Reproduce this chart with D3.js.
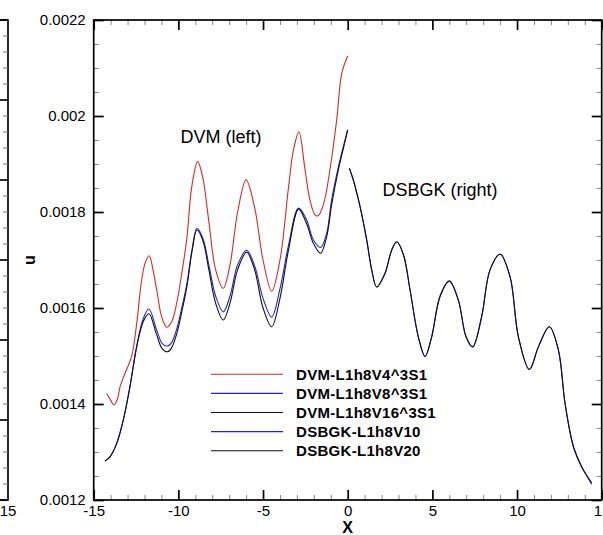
<!DOCTYPE html>
<html>
<head>
<meta charset="utf-8">
<script src="https://cdn.jsdelivr.net/npm/d3@7"></script>
<style>
  html, body { margin: 0; padding: 0; background: #fff; }
  svg { display: block; font-family: "Liberation Sans", Arial, Helvetica, sans-serif; }
</style>
</head>
<body>
<svg id="chart" width="603" height="535"></svg>
<script>
// ---- data -------------------------------------------------------------
// DVM solutions (left half of the domain)
const dvmRedX = [-14.23, -14.0, -13.8, -13.6, -13.44, -13.15, -12.76, -12.46, -12.17, -11.95, -11.72, -11.5, -11.28, -10.99, -10.69, -10.4, -10.1, -9.8, -9.51, -9.2, -8.86, -8.55, -8.2, -7.8, -7.35, -6.95, -6.5, -6.0, -5.5, -5.0, -4.49, -4.0, -3.5, -3.2, -2.88, -2.52, -2.23, -1.93, -1.74, -1.4, -1.05, -0.65, -0.35, 0.0];
const dvmRedU = [0.001422, 0.001408, 0.001398, 0.00141, 0.001436, 0.001464, 0.001499, 0.001568, 0.001658, 0.001695, 0.001709, 0.00168, 0.001638, 0.001582, 0.00156, 0.001571, 0.00161, 0.001672, 0.001742, 0.001855, 0.001905, 0.00187, 0.00178, 0.00168, 0.001641, 0.00169, 0.0018, 0.001867, 0.00181, 0.0017, 0.001635, 0.0017, 0.00185, 0.00193, 0.001967, 0.001888, 0.001825, 0.001794, 0.001792, 0.00182, 0.001888, 0.001992, 0.002089, 0.002125];

const dvmX = [-14.34, -14.04, -13.64, -13.25, -12.86, -12.46, -12.07, -11.74, -11.28, -10.95, -10.63, -10.4, -10.1, -9.8, -9.5, -9.2, -8.9, -8.55, -8.2, -7.8, -7.35, -6.95, -6.5, -5.97, -5.5, -5.0, -4.49, -4.0, -3.5, -2.9, -2.42, -2.03, -1.6, -1.24, -0.95, -0.55, -0.26, 0.0];
const dvmBlueU = [0.001281, 0.00129, 0.001318, 0.001367, 0.001436, 0.001521, 0.001578, 0.001598, 0.001554, 0.001526, 0.001521, 0.001528, 0.001556, 0.0016, 0.00165, 0.00172, 0.001766, 0.001745, 0.00169, 0.001625, 0.001592, 0.001625, 0.00169, 0.00172, 0.001688, 0.00162, 0.001581, 0.00164, 0.00173, 0.001808, 0.001783, 0.001742, 0.001726, 0.001756, 0.001825, 0.001894, 0.001936, 0.001971];
const dvmBlackU = [0.001281, 0.00129, 0.001318, 0.001367, 0.001436, 0.001519, 0.001572, 0.001588, 0.001544, 0.001515, 0.001509, 0.001517, 0.001546, 0.001592, 0.001644, 0.001717, 0.001763, 0.00174, 0.00168, 0.00161, 0.001575, 0.00161, 0.00168, 0.001716, 0.00168, 0.0016, 0.001561, 0.00162, 0.00172, 0.001806, 0.001775, 0.001735, 0.001714, 0.001749, 0.001815, 0.001888, 0.001932, 0.001971];

// DSBGK solutions (right half of the domain)
const dsbgkX = [0.1, 0.33, 0.73, 1.12, 1.42, 1.71, 2.2, 2.6, 2.9, 3.3, 3.68, 4.17, 4.57, 4.96, 5.45, 6.0, 6.53, 6.99, 7.38, 7.91, 8.4, 9.0, 9.59, 10.08, 10.73, 11.26, 11.91, 12.44, 12.84, 13.33, 13.82, 14.41];
const dsbgkV10U = [0.001891, 0.001867, 0.001811, 0.001742, 0.001679, 0.001644, 0.001672, 0.001721, 0.001738, 0.00171, 0.001638, 0.00154, 0.001499, 0.00154, 0.001624, 0.001656, 0.001617, 0.00154, 0.001519, 0.001582, 0.001679, 0.001712, 0.001665, 0.00154, 0.001472, 0.001519, 0.001561, 0.001513, 0.0014, 0.001311, 0.001269, 0.001233];
const dsbgkV20U = [0.001891, 0.001867, 0.001811, 0.001742, 0.001679, 0.001644, 0.001672, 0.001721, 0.001738, 0.00171, 0.001638, 0.00154, 0.001499, 0.00154, 0.001624, 0.001656, 0.001617, 0.00154, 0.001519, 0.001582, 0.001679, 0.001712, 0.001665, 0.00154, 0.001472, 0.001519, 0.001561, 0.001513, 0.0014, 0.001311, 0.001269, 0.001236];

const seriesNames = ["DVM-L1h8V4^3S1", "DVM-L1h8V8^3S1", "DVM-L1h8V16^3S1", "DSBGK-L1h8V10", "DSBGK-L1h8V20"];
const seriesColors = ["#d42a2a", "#2323e6", "#111111", "#2323e6", "#111111"];

const xTickValues = [-15, -10, -5, 0, 5, 10, 15];
const xTickLabels = ["-15", "-10", "-5", "0", "5", "10", "15"];
const yTickValues = [0.0012, 0.0014, 0.0016, 0.0018, 0.002, 0.0022];
const yTickLabels = ["0.0012", "0.0014", "0.0016", "0.0018", "0.002", "0.0022"];

// ---- layout -----------------------------------------------------------
const svg = d3.select("#chart");
const frame = { left: 93.7, right: 601.7, top: 20, bottom: 500 };
const tickFont = 15;

const x = d3.scaleLinear().domain([-15, 15]).range([frame.left, frame.right]);
const y = d3.scaleLinear().domain([0.0012, 0.0022]).range([frame.bottom, frame.top]);

// neighbouring panel edge on the far left
const side = svg.append("g").attr("class", "side-panel");
const sideY = d3.scaleLinear().domain([0, 30]).range([frame.bottom, frame.top]);
side.append("path")
  .attr("d", `M0,${frame.top}H8V${frame.bottom}H0`)
  .attr("fill", "none").attr("stroke", "#000").attr("stroke-width", 1.7);
side.selectAll("line.tick")
  .data(d3.range(0, 31))
  .join("line")
  .attr("x1", d => d % 5 === 0 ? 0 : 3)
  .attr("x2", 8)
  .attr("y1", d => sideY(d)).attr("y2", d => sideY(d))
  .attr("stroke", d => d % 5 === 0 ? "#000" : "#777")
  .attr("stroke-width", d => d % 5 === 0 ? 1.7 : 1);
side.append("text")
  .attr("x", 8).attr("y", 515.5)
  .attr("text-anchor", "middle")
  .attr("font-size", tickFont)
  .text("15");

// ---- axes ---------------------------------------------------------------
const minorX = d3.range(-15, 16, 1).filter(v => v % 5 !== 0);
const minorY = d3.range(0, 21).map(i => 0.0012 + i * 0.00005).filter((v, i) => i % 4 !== 0);

function styleAxis(g, major) {
  g.select(".domain").remove();
  g.selectAll(".tick line")
    .attr("stroke", major ? "#000" : "#888")
    .attr("stroke-width", major ? 1.7 : 1);
  g.selectAll(".tick text").attr("font-size", tickFont).attr("fill", "#000").attr("font-family", null);
}

// bottom
svg.append("g").attr("transform", `translate(0,${frame.bottom})`)
  .call(d3.axisBottom(x).tickValues(xTickValues).tickSize(-10).tickPadding(5)
    .tickFormat((d, i) => xTickLabels[i]))
  .call(g => styleAxis(g, true));
svg.append("g").attr("transform", `translate(0,${frame.bottom})`)
  .call(d3.axisBottom(x).tickValues(minorX).tickSize(-5).tickFormat(""))
  .call(g => styleAxis(g, false));
// top
svg.append("g").attr("transform", `translate(0,${frame.top})`)
  .call(d3.axisTop(x).tickValues(xTickValues).tickSize(-10).tickFormat(""))
  .call(g => styleAxis(g, true));
svg.append("g").attr("transform", `translate(0,${frame.top})`)
  .call(d3.axisTop(x).tickValues(minorX).tickSize(-5).tickFormat(""))
  .call(g => styleAxis(g, false));
// left
svg.append("g").attr("transform", `translate(${frame.left},0)`)
  .call(d3.axisLeft(y).tickValues(yTickValues).tickSize(-10).tickPadding(8)
    .tickFormat((d, i) => yTickLabels[i]))
  .call(g => styleAxis(g, true));
svg.append("g").attr("transform", `translate(${frame.left},0)`)
  .call(d3.axisLeft(y).tickValues(minorY).tickSize(-5).tickFormat(""))
  .call(g => styleAxis(g, false));
// right
svg.append("g").attr("transform", `translate(${frame.right},0)`)
  .call(d3.axisRight(y).tickValues(yTickValues).tickSize(-10).tickFormat(""))
  .call(g => styleAxis(g, true));
svg.append("g").attr("transform", `translate(${frame.right},0)`)
  .call(d3.axisRight(y).tickValues(minorY).tickSize(-5).tickFormat(""))
  .call(g => styleAxis(g, false));

// frame
svg.append("rect")
  .attr("x", frame.left).attr("y", frame.top)
  .attr("width", frame.right - frame.left).attr("height", frame.bottom - frame.top)
  .attr("fill", "none").attr("stroke", "#000").attr("stroke-width", 1.7);

// axis titles
svg.append("text")
  .attr("x", x(0)).attr("y", 533)
  .attr("text-anchor", "middle").attr("font-size", 16).attr("font-weight", "bold")
  .text("X");
svg.append("text")
  .attr("transform", `translate(35,${y(0.00170)}) rotate(-90)`)
  .attr("text-anchor", "middle").attr("font-size", 16).attr("font-weight", "bold")
  .text("u");

// ---- curves -------------------------------------------------------------
const line = d3.line()
  .x(d => x(d[0])).y(d => y(d[1]))
  .curve(d3.curveCatmullRom.alpha(0.5));

const curves = [
  { xs: dvmRedX, us: dvmRedU, color: seriesColors[0] },
  { xs: dvmX, us: dvmBlueU, color: seriesColors[1] },
  { xs: dvmX, us: dvmBlackU, color: seriesColors[2] },
  { xs: dsbgkX, us: dsbgkV10U, color: seriesColors[3] },
  { xs: dsbgkX, us: dsbgkV20U, color: seriesColors[4] }
];

svg.append("g").selectAll("path")
  .data(curves)
  .join("path")
  .attr("d", c => line(c.xs.map((v, i) => [v, c.us[i]])))
  .attr("fill", "none")
  .attr("stroke", c => c.color)
  .attr("stroke-width", 1.1);

// ---- annotations ----------------------------------------------------------
svg.append("text").attr("x", 180.5).attr("y", 143).attr("font-size", 18).text("DVM (left)");
svg.append("text").attr("x", 382.5).attr("y", 196).attr("font-size", 18).text("DSBGK (right)");

// ---- legend ---------------------------------------------------------------
const legend = svg.append("g").attr("class", "legend");
const rows = legend.selectAll("g")
  .data(seriesNames)
  .join("g")
  .attr("transform", (d, i) => `translate(0,${374.3 + i * 19.1})`);
rows.append("line")
  .attr("x1", 211).attr("x2", 283)
  .attr("stroke", (d, i) => seriesColors[i]).attr("stroke-width", 1.1);
rows.append("text")
  .attr("x", 296).attr("dy", "0.36em")
  .attr("font-size", 15).attr("letter-spacing", 0.3).attr("font-weight", "bold")
  .text(d => d);
</script>
</body>
</html>
